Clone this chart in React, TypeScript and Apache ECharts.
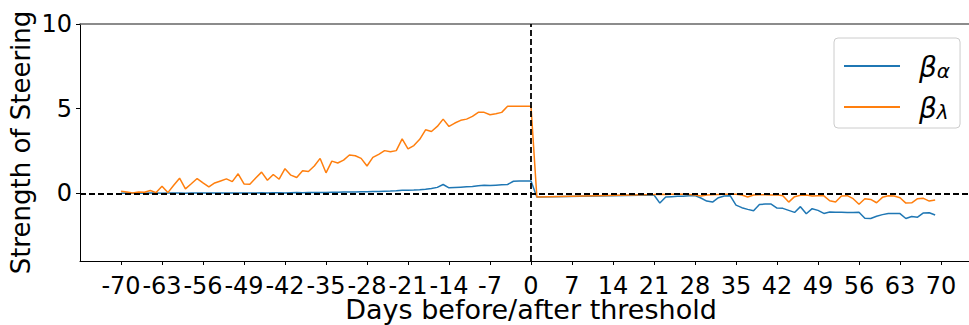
import React, { useEffect, useRef } from "react";
import * as echarts from "echarts";

// Days -70 .. 0 (one value per day, starting at PRE_START)
const PRE_START = -70;
const betaAlphaPre = [
  0.0, 0.01, 0.0, 0.01, 0.0, 0.01, 0.01, 0.0, 0.01, 0.01,
  0.01, 0.0, 0.01, 0.01, 0.02, 0.01, 0.01, 0.02, 0.01, 0.02,
  0.02, 0.02, 0.01, 0.02, 0.03, 0.02, 0.03, 0.03, 0.02, 0.03,
  0.04, 0.03, 0.04, 0.05, 0.04, 0.05, 0.06, 0.06, 0.07, 0.07,
  0.08, 0.09, 0.09, 0.1, 0.11, 0.12, 0.13, 0.15, 0.18, 0.18,
  0.19, 0.21, 0.24, 0.28, 0.35, 0.52, 0.32, 0.34, 0.36, 0.38,
  0.4, 0.44, 0.48, 0.46, 0.48, 0.5, 0.52, 0.71, 0.72, 0.72,
  0.72,
];
const betaLambdaPre = [
  0.12, 0.08, 0.02, 0.08, 0.06, 0.16, 0.04, 0.42, 0.04, 0.47,
  0.89, 0.26, 0.56, 0.87, 0.62, 0.38, 0.61, 0.73, 0.85, 0.69,
  1.15, 0.55, 0.53, 0.9, 1.25, 0.77, 1.11, 0.83, 1.45, 1.07,
  0.93, 1.33, 1.29, 1.61, 2.06, 1.21, 1.9, 1.79, 1.96, 2.26,
  2.22, 2.06, 1.61, 2.12, 2.3, 2.52, 2.46, 2.52, 3.21, 2.62,
  2.82, 3.19, 3.75, 3.65, 3.95, 4.38, 3.95, 4.15, 4.31, 4.38,
  4.54, 4.78, 4.78, 4.64, 4.7, 4.78, 5.14, 5.14, 5.14, 5.14,
  5.14,
];

// Days after the threshold that carry an observation
const postDays = [
  1,
  21, 22, 23, 24, 25, 26, 27, 28, 29, 30,
  31, 32, 33, 34, 35, 36, 37, 38, 39, 40,
  41, 42, 43, 44, 45, 46, 47, 48, 49, 50,
  51, 52, 53, 54, 55, 56, 57, 58, 59, 60,
  61, 62, 63, 64, 65, 66, 67, 68, 69,
];
const betaAlphaPost = [
  -0.22,
  -0.1, -0.58, -0.22, -0.2, -0.18, -0.18, -0.14, -0.14, -0.28, -0.46,
  -0.52, -0.26, -0.16, -0.14, -0.7, -0.85, -0.95, -1.03, -0.66, -0.64,
  -0.64, -0.87, -0.89, -1.01, -1.13, -0.79, -1.21, -0.91, -1.01, -1.19,
  -1.11, -1.12, -1.12, -1.13, -1.14, -1.12, -1.47, -1.49, -1.36, -1.26,
  -1.19, -1.19, -1.2, -1.49, -1.37, -1.41, -1.16, -1.15, -1.28,
];
const betaLambdaPost = [
  -0.22,
  -0.07, -0.06, -0.07, -0.06, -0.05, -0.06, -0.07, -0.1, -0.16, -0.1,
  -0.08, -0.07, -0.06, -0.05, -0.06, -0.1, -0.22, -0.1, -0.08, -0.09,
  -0.1, -0.08, -0.14, -0.52, -0.2, -0.12, -0.1, -0.16, -0.14, -0.15,
  -0.44, -0.52, -0.16, -0.14, -0.32, -0.65, -0.32, -0.36, -0.56, -0.24,
  -0.15, -0.16, -0.26, -0.58, -0.56, -0.32, -0.3, -0.46, -0.4,
];

const xTicks = [-70, -63, -56, -49, -42, -35, -28, -21, -14, -7, 0, 7, 14, 21, 28, 35, 42, 49, 56, 63, 70];
const yTicks = [0, 5, 10];

const FONT = "DejaVu Sans";

function toPoints(pre: number[], post: number[]): [number, number][] {
  const a: [number, number][] = pre.map((v, i) => [PRE_START + i, v]);
  const b: [number, number][] = post.map((v, i) => [postDays[i], v]);
  return a.concat(b);
}

export default function App() {
  const ref = useRef<HTMLDivElement>(null);

  useEffect(() => {
    if (!ref.current) return;
    const chart = echarts.init(ref.current, null, { renderer: "svg" });
    const option = {
      animation: false,
      backgroundColor: "#ffffff",
      textStyle: { fontFamily: FONT },
      grid: {
        left: 80,
        right: -13,
        top: 24,
        bottom: 64,
        containLabel: false,
        outerBoundsMode: "none",
      },
      legend: {
        data: ["beta_alpha", "beta_lambda"],
        orient: "vertical",
        left: 834,
        top: 38,
        padding: [3, 10, 6, 10],
        icon: "rect",
        itemWidth: 56,
        itemHeight: 2,
        itemGap: 1,
        backgroundColor: "rgba(255,255,255,0.8)",
        borderColor: "#cccccc",
        borderWidth: 1,
        borderRadius: 4,
        formatter: (name: string) =>
          name === "beta_alpha" ? "{b|β}{s|α}" : "{b|β}{s|λ}",
        textStyle: {
          color: "#000",
          rich: {
            b: {
              fontFamily: FONT,
              fontStyle: "italic",
              fontSize: 28,
              lineHeight: 30,
              verticalAlign: "bottom",
              padding: [10, 0, 0, 14],
              color: "#000",
            },
            s: {
              fontFamily: FONT,
              fontStyle: "italic",
              fontSize: 20,
              lineHeight: 20,
              padding: [20, 0, 0, 0],
              verticalAlign: "bottom",
              color: "#000",
            },
          },
        },
      },
      xAxis: [
        {
          type: "value",
          min: -77,
          max: 77,
          position: "bottom",
          splitLine: { show: false },
          axisLine: { show: true, onZero: false, lineStyle: { color: "#000", width: 1 } },
          axisTick: { show: true, customValues: xTicks, length: 4, lineStyle: { color: "#000" } },
          axisLabel: {
            customValues: xTicks,
            fontSize: 24,
            lineHeight: 20,
            margin: 15,
            color: "#000",
            fontFamily: FONT,
          },
          name: "Days before/after threshold",
          nameLocation: "middle",
          nameGap: 37,
          nameMoveOverlap: false,
          nameTextStyle: { fontSize: 27, lineHeight: 22, color: "#000", fontFamily: FONT },
        },
        {
          type: "value",
          min: -77,
          max: 77,
          position: "top",
          splitLine: { show: false },
          axisLine: { show: true, onZero: false, lineStyle: { color: "#666", width: 1.5 } },
          axisTick: { show: false },
          axisLabel: { show: false },
        },
      ],
      yAxis: {
        type: "value",
        min: -4,
        max: 10,
        splitLine: { show: false },
        axisLine: { show: true, onZero: false, lineStyle: { color: "#000", width: 1 } },
        axisTick: { show: true, customValues: yTicks, length: 4, lineStyle: { color: "#000" } },
        axisLabel: {
          customValues: yTicks,
          fontSize: 24,
          margin: 8,
          color: "#000",
          fontFamily: FONT,
        },
        name: "Strength of Steering",
        nameLocation: "middle",
        nameGap: 46,
        nameMoveOverlap: false,
        nameTextStyle: { fontSize: 26, color: "#000", fontFamily: FONT },
      },
      series: [
        {
          name: "beta_alpha",
          type: "line",
          data: toPoints(betaAlphaPre, betaAlphaPost),
          symbol: "none",
          lineStyle: { color: "#1f77b4", width: 1.5 },
          itemStyle: { color: "#1f77b4" },
          z: 2,
        },
        {
          name: "beta_lambda",
          type: "line",
          data: toPoints(betaLambdaPre, betaLambdaPost),
          symbol: "none",
          lineStyle: { color: "#ff7f0e", width: 1.5 },
          itemStyle: { color: "#ff7f0e" },
          z: 3,
        },
        {
          name: "reference",
          type: "line",
          data: [],
          z: 5,
          markLine: {
            silent: true,
            symbol: ["none", "none"],
            label: { show: false },
            lineStyle: { color: "#000", type: [6, 3], width: 1.8 },
            data: [{ xAxis: 0 }, { yAxis: 0 }],
          },
        },
      ],
    };
    chart.setOption(option as any);
    return () => chart.dispose();
  }, []);

  return (
    <div
      ref={ref}
      style={{ position: "fixed", left: 0, top: 0, width: 969, height: 325 }}
    />
  );
}
